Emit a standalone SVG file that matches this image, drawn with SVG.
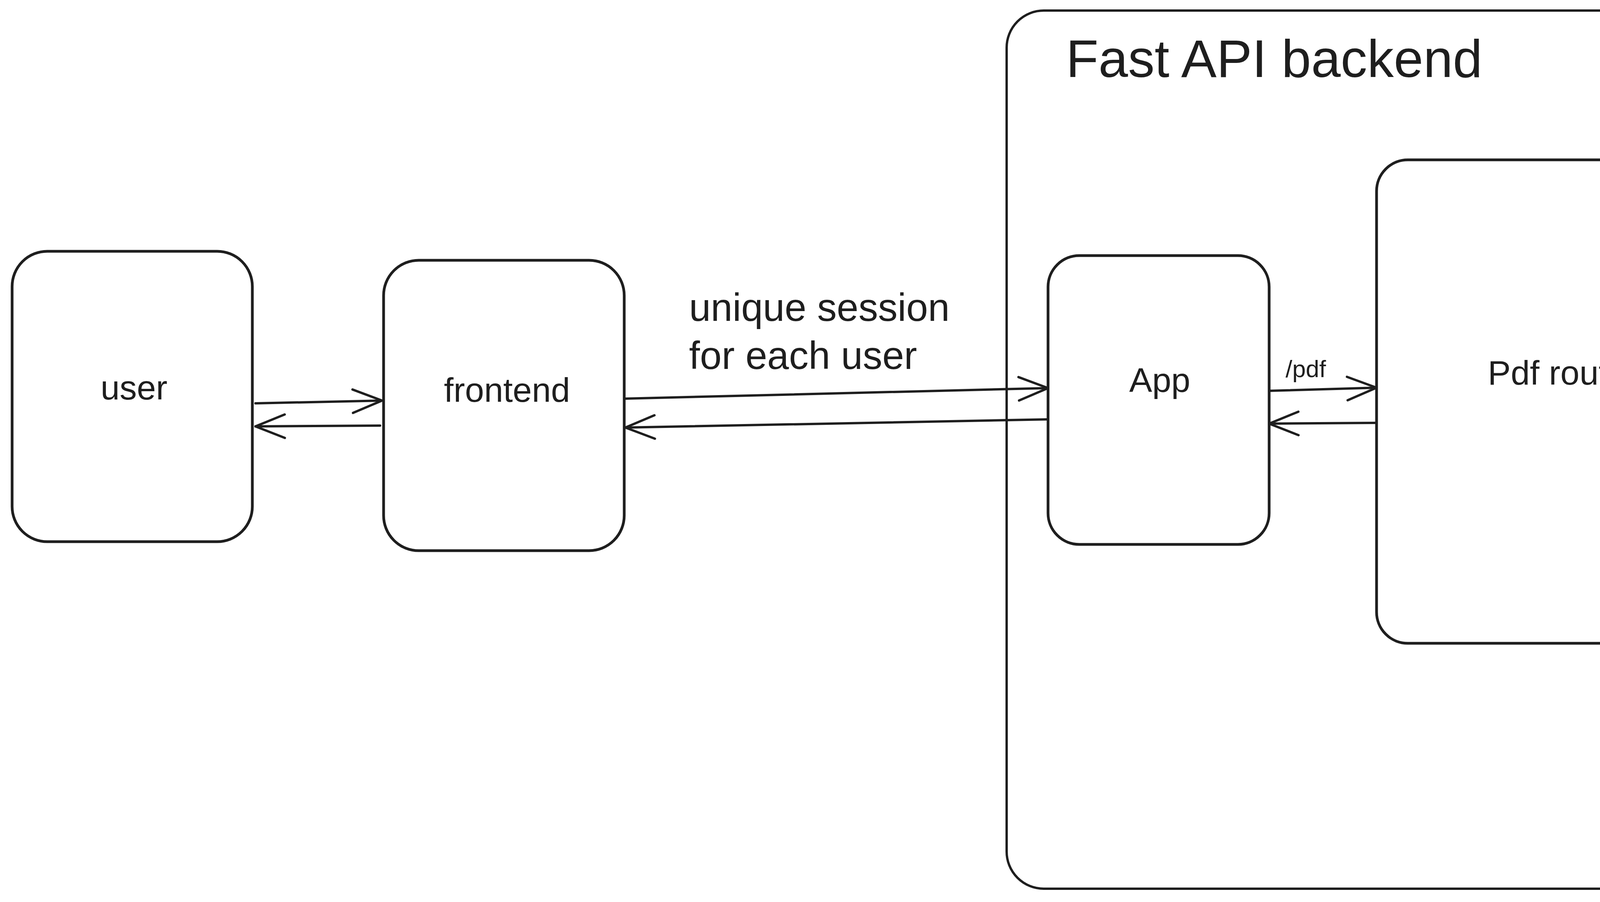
<svg xmlns="http://www.w3.org/2000/svg" width="7275" height="2308" viewBox="0 0 7275 2308">
<style>
.box{fill:#ffffff;stroke:#1e1e1e;stroke-width:7;stroke-linejoin:round}
.cont{fill:none;stroke:#1e1e1e;stroke-width:6}
.conn{fill:none;stroke:#1e1e1e;stroke-width:6;stroke-linecap:round;marker-end:url(#ah)}
text{font-family:"Liberation Sans",Arial,sans-serif;fill:#1e1e1e}
.big{font-size:100px}
.title{font-size:136px}
.lbl{font-size:88px}
.sm{font-size:62px}
.or{font-size:80px}
</style>
<defs>
<marker id="ah" markerUnits="userSpaceOnUse" markerWidth="100" markerHeight="100" viewBox="-90 -50 100 100" refX="0" refY="0" orient="auto" overflow="visible">
<path d="M-75,-30 L0,0 L-75,30" fill="none" stroke="#1e1e1e" stroke-width="6" stroke-linecap="round" stroke-linejoin="round"/>
</marker>
</defs>
<rect width="7275" height="2308" fill="#ffffff"/>

<g id="backend">
<rect class="cont" x="2577" y="27" width="3253" height="2247" rx="95"/>
<text class="title" x="2729" y="197">Fast API backend</text>
</g>

<g id="user">
<rect class="box" x="31" y="643" width="615" height="743" rx="90"/>
<text class="lbl" x="343" y="1022" text-anchor="middle">user</text>
</g>

<g id="frontend">
<rect class="box" x="982" y="666" width="616" height="743" rx="90"/>
<text class="lbl" x="1298" y="1028" text-anchor="middle">frontend</text>
</g>

<g id="session-label">
<text class="big" x="1764" y="821">unique session</text>
<text class="big" x="1764" y="944">for each user</text>
</g>

<g id="app">
<rect class="box" x="2683" y="654" width="566" height="739" rx="80"/>
<text class="lbl" x="2969" y="1003" text-anchor="middle">App</text>
</g>

<g id="pdf-router">
<rect class="box" x="3524" y="409" width="882" height="1237" rx="80"/>
<text class="lbl" x="4002" y="984" text-anchor="middle">Pdf router</text>
</g>

<g id="stores">
<rect class="box" x="5021" y="268" width="461" height="529" rx="80"/>
<text class="sm" x="5086" y="422">stores the</text>
<text class="sm" x="5086" y="494">pdf file in</text>
<text class="sm" x="5086" y="567">backend</text>
<text class="sm" x="5086" y="642">folder</text>
</g>

<g id="deletes">
<rect class="box" x="5049" y="915" width="441" height="454" rx="80"/>
<text class="sm" x="5102" y="1091">deletes the</text>
<text class="sm" x="5102" y="1164">file from</text>
<text class="sm" x="5102" y="1238">backend</text>
</g>

<g id="extracts">
<rect class="box" x="5051" y="1520" width="505" height="614" rx="80"/>
<text class="sm" x="5103" y="1665">1. extracts</text>
<text class="sm" x="5103" y="1737">content from</text>
<text class="sm" x="5103" y="1812">pdf and ask</text>
<text class="sm" x="5103" y="1889">LLM the query</text>
<text class="sm" x="5103" y="1963">along with the</text>
<text class="sm" x="5126" y="2037">context</text>
</g>

<g id="openrouter">
<rect class="box" x="6182" y="906" width="1063" height="535" rx="90"/>
<text class="or" x="6303" y="1097">OpenRouter</text>
<text class="or" x="6303" y="1300">Google: Gemma 3n 2B</text>
</g>

<g id="connectors">
<path class="conn" d="M654,1032 L978,1025"/>
<path class="conn" d="M973,1089 L654,1091"/>
<path class="conn" d="M1601,1020 L2683,993"/>
<path class="conn" d="M2683,1073 L1601,1094"/>
<path class="conn" d="M3249,1000 L3524,992"/>
<path class="conn" d="M3524,1082 L3249,1084"/>
<path class="conn" d="M4412,803 L5020,482"/>
<path class="conn" d="M5011,565 L4412,876"/>
<path class="conn" d="M4410,1152 L5042,1149"/>
<path class="conn" d="M5042,1216 L4410,1213"/>
<path class="conn" d="M4415,1432 L5047,1687"/>
<path class="conn" d="M5546,1574 L6171,1226"/>
<path class="conn" d="M6171,1350 L5920,1499 M5798,1571 L5546,1720"/>
<text class="sm" x="3291" y="965">/pdf</text>
<text class="sm" x="4650" y="616" text-anchor="middle" transform="rotate(-27.9 4650 594)">POST /upload</text>
<text class="sm" x="4462" y="1112">DELETE /upload</text>
<text class="sm" x="4673" y="1614" text-anchor="middle" transform="rotate(22 4673 1592)">POST /chat</text>
<text class="sm" x="5860" y="1553" text-anchor="middle">gets answer</text>
</g>
</svg>
